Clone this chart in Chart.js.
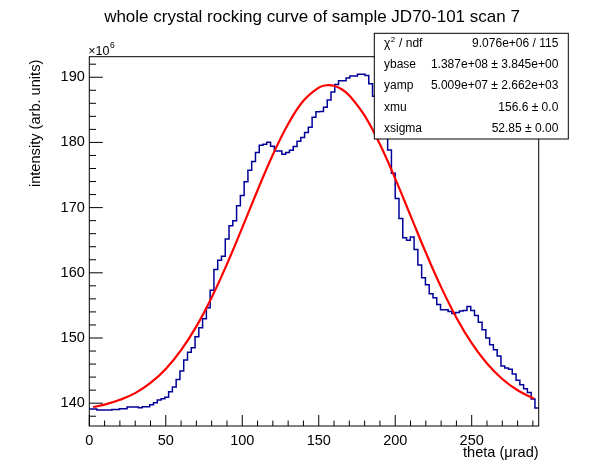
<!DOCTYPE html>
<html>
<head>
<meta charset="utf-8">
<script src="https://cdn.jsdelivr.net/npm/chart.js@4/dist/chart.umd.min.js"></script>
<style>
  html, body { margin: 0; padding: 0; background: #fff; }
  #wrap { width: 598px; height: 474px; }
</style>
</head>
<body>
<div id="wrap"><canvas id="chart"></canvas></div>
<script>
// histogram binning (theta in urad), values in units of 1e6
const binWidth = 2.469;
const xMin = 0;
const xMax = 293.8;
const yMin = 136.5;
const yMax = 193.15;

const counts = [
  139.10, 139.10, 138.95, 138.95, 138.95, 138.95, 139.05, 139.05, 139.15, 139.15,
  139.41, 139.41, 139.41, 139.31, 139.46, 139.46, 139.77, 140.08, 140.49, 140.69,
  140.90, 141.77, 142.49, 143.62, 144.95, 146.64, 147.82, 148.49, 150.18, 151.56,
  152.95, 154.64, 157.31, 160.49, 161.92, 162.54, 165.20, 167.21, 167.97, 170.28,
  171.87, 173.97, 175.72, 177.08, 178.46, 179.57, 179.72, 180.03, 179.40, 178.69,
  178.69, 178.18, 178.44, 178.79, 179.36, 180.18, 180.77, 181.53, 182.33, 183.87,
  184.70, 184.75, 185.40, 186.50, 187.72, 188.90, 189.45, 189.45, 189.90, 190.20,
  190.20, 190.44, 190.44, 190.25, 189.00, 187.10, 185.00, 183.00, 181.00, 178.85,
  175.26, 171.41, 168.33, 165.38, 165.00, 165.50, 163.56, 161.20, 159.26, 158.18,
  156.79, 156.18, 155.12, 154.35, 154.35, 154.08, 153.77, 153.92, 154.13, 154.23,
  154.82, 154.20, 153.44, 152.41, 151.28, 150.00, 148.97, 148.20, 147.23, 145.72,
  145.41, 145.20, 144.49, 143.50, 142.82, 142.20, 141.62, 140.66, 139.26
];

const fitX = [2.5, 10, 20, 30, 40, 50, 60, 70, 80, 90, 100, 110, 120, 130, 140, 150,
  155, 160, 165, 170, 180, 190, 200, 210, 220, 230, 240, 250, 260, 270, 280, 290.7];
const fitY = [139.41, 139.77, 140.52, 141.54, 143.10, 145.25, 148.13, 151.78, 156.22,
  161.34, 166.93, 172.66, 178.11, 182.83, 186.38, 188.40, 188.77, 188.69, 188.16,
  187.21, 184.11, 179.72, 174.45, 168.77, 163.09, 157.80, 153.12, 149.21, 146.09,
  143.71, 141.98, 140.70];

const statsLabels = ["ndf", "ybase", "yamp", "xmu", "xsigma"];
const statsValues = [
  "9.076e+06 / 115",
  "1.387e+08 \u00b1 3.845e+00",
  "5.009e+07 \u00b1 2.662e+03",
  "156.6 \u00b1 0.0",
  "52.85 \u00b1 0.00"
];

const FONT = "'Liberation Sans', Arial, sans-serif";

const histPoints = counts.map((v, i) => ({ x: i * binWidth, y: v }));
histPoints.push({ x: counts.length * binWidth, y: counts[counts.length - 1] });
const fitPoints = fitX.map((x, i) => ({ x: x, y: fitY[i] }));

const rootStyle = {
  id: "rootStyle",
  afterDraw(chart) {
    const ctx = chart.ctx;
    const { left, right, top, bottom } = chart.chartArea;
    const xs = chart.scales.x;
    const ys = chart.scales.y;
    ctx.save();
    ctx.strokeStyle = "#000";
    ctx.fillStyle = "#000";
    ctx.lineWidth = 1;

    // frame
    ctx.strokeRect(left, top, right - left, bottom - top);

    // inward ticks
    ctx.beginPath();
    for (let i = 0; i * 10 <= xMax; i++) {
      const px = xs.getPixelForValue(i * 10);
      const len = i % 5 === 0 ? 11 : 5.5;
      ctx.moveTo(px, bottom);
      ctx.lineTo(px, bottom - len);
    }
    for (let v = 138; v <= 192; v += 2) {
      const py = ys.getPixelForValue(v);
      const len = v % 10 === 0 ? 13.5 : 6.75;
      ctx.moveTo(left, py);
      ctx.lineTo(left + len, py);
    }
    ctx.stroke();

    // title
    ctx.font = "17px " + FONT;
    ctx.textAlign = "center";
    ctx.textBaseline = "alphabetic";
    ctx.fillText("whole crystal rocking curve of sample JD70-101 scan 7", 312, 22);

    // axis titles
    ctx.font = "14.6px " + FONT;
    ctx.textAlign = "right";
    ctx.fillText("theta (\u03bcrad)", right, 457);
    ctx.save();
    ctx.translate(40, top + 3);
    ctx.rotate(-Math.PI / 2);
    ctx.textAlign = "right";
    ctx.fillText("intensity (arb. units)", 0, 0);
    ctx.restore();

    // exponent
    ctx.textAlign = "left";
    ctx.font = "12.5px " + FONT;
    ctx.fillText("\u00d710", left - 1, 55);
    const w = ctx.measureText("\u00d710").width;
    ctx.font = "8.5px " + FONT;
    ctx.fillText("6", left - 1 + w + 0.5, 47.5);

    // stats box
    const bx = 374.3, by = 33.3, bw = 194, bh = 105.7;
    ctx.fillStyle = "#fff";
    ctx.fillRect(bx, by, bw, bh);
    ctx.strokeRect(bx, by, bw, bh);
    ctx.fillStyle = "#000";
    ctx.textBaseline = "middle";
    const rowH = bh / statsLabels.length;
    statsLabels.forEach((label, i) => {
      const cy = by + rowH * (i + 0.5);
      ctx.font = "12px " + FONT;
      ctx.textAlign = "left";
      if (i === 0) {
        ctx.fillText("\u03c7", 384, cy);
        const cw = ctx.measureText("\u03c7").width;
        ctx.font = "8px " + FONT;
        ctx.fillText("2", 384 + cw + 0.5, cy - 4);
        const sw = ctx.measureText("2").width;
        ctx.font = "12px " + FONT;
        ctx.fillText(" / " + label, 384 + cw + sw + 1, cy);
      } else {
        ctx.fillText(label, 384, cy);
      }
      ctx.textAlign = "right";
      ctx.fillText(statsValues[i], 558.3, cy);
    });
    ctx.restore();
  }
};

new Chart(document.getElementById("chart"), {
  type: "line",
  plugins: [rootStyle],
  data: {
    datasets: [
      {
        label: "fit",
        data: fitPoints,
        borderColor: "#ff0000",
        borderWidth: 2.2,
        pointRadius: 0,
        tension: 0.4,
        fill: false,
        order: 0,
      },
      {
        label: "scan 7",
        data: histPoints,
        borderColor: "#000099",
        borderWidth: 1.5,
        pointRadius: 0,
        stepped: "before",
        fill: false,
        order: 1,
      },
    ],
  },
  options: {
    responsive: true,
    maintainAspectRatio: false,
    animation: false,
    devicePixelRatio: 1,
    layout: { padding: { left: 0, top: 56.7, right: 59.3, bottom: 0 } },
    scales: {
      x: {
        type: "linear",
        min: xMin,
        max: xMax,
        afterFit: (s) => { s.height = 48; },
        grid: { display: false, drawTicks: false },
        border: { display: false },
        ticks: {
          stepSize: 50,
          includeBounds: false,
          padding: 6,
          maxRotation: 0,
          color: "#000",
          font: { family: FONT, size: 14.5 },
        },
      },
      y: {
        min: yMin,
        max: yMax,
        afterFit: (s) => { s.width = 89.3; },
        grid: { display: false, drawTicks: false },
        border: { display: false },
        ticks: {
          stepSize: 10,
          includeBounds: false,
          padding: 4.5,
          color: "#000",
          font: { family: FONT, size: 14.5 },
        },
      },
    },
    plugins: {
      legend: { display: false },
      tooltip: { enabled: false },
      title: { display: false },
    },
  },
});
</script>
</body>
</html>
